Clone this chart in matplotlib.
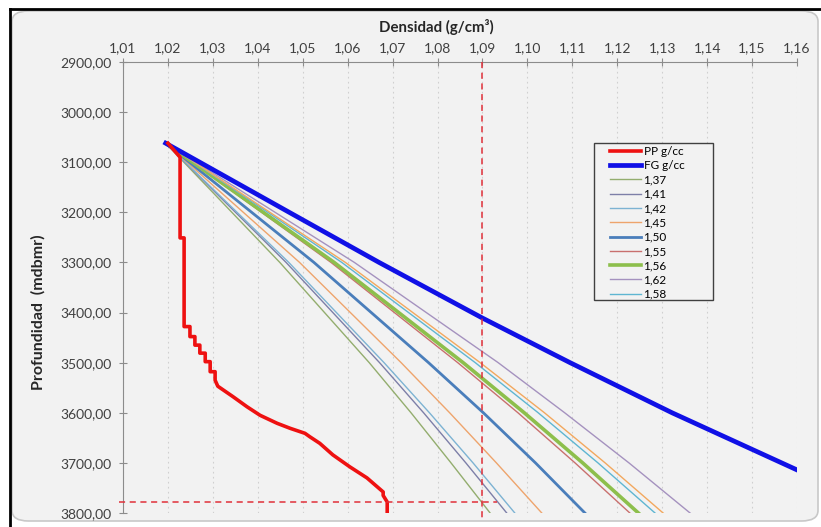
import matplotlib
matplotlib.use('Agg')
import matplotlib.pyplot as plt
from matplotlib.patches import FancyBboxPatch, Rectangle
from matplotlib.lines import Line2D
from matplotlib.ticker import FuncFormatter

plt.rcParams['font.family'] = ['Lato', 'DejaVu Sans']

# PP curve (pore pressure), density vs depth
pp_dens = [1.0200, 1.0227, 1.0227, 1.0236, 1.0236, 1.0249, 1.0249, 1.0260, 1.0260, 1.0271, 1.0271,
           1.0283, 1.0283, 1.0294, 1.0294, 1.0305, 1.0305, 1.0311, 1.0345, 1.0376, 1.0405, 1.0443,
           1.0472, 1.0505, 1.0516, 1.0538, 1.0567, 1.0605, 1.0643, 1.0679, 1.0679, 1.0688, 1.0688]
pp_depth = [3062, 3090, 3251, 3251, 3428, 3428, 3448, 3448, 3465, 3465, 3481,
            3481, 3498, 3498, 3518, 3518, 3535, 3547, 3568, 3588, 3605, 3621,
            3631, 3641, 3648, 3661, 3684, 3708, 3730, 3758, 3765, 3778, 3800]

# FG curve (fracture gradient)
fg_dens = [1.0195, 1.0470, 1.0670, 1.0900, 1.1095, 1.1322, 1.1600]
fg_depth = [3062, 3200, 3300, 3411, 3500, 3600, 3714]

# mud weight curves
mw_depth = [3062, 3300, 3500, 3600, 3700, 3800]
mw_labels = ['1,37', '1,41', '1,42', '1,45', '1,50', '1,55', '1,56', '1,62', '1,58', '_nolegend_']
mw_dens = {
    '1,37': [1.0195, 1.0449, 1.0648, 1.0741, 1.0830, 1.0917],
    '1,41': [1.0195, 1.0463, 1.0671, 1.0769, 1.0863, 1.0954],
    '1,42': [1.0195, 1.0469, 1.0681, 1.0782, 1.0879, 1.0972],
    '1,45': [1.0195, 1.0493, 1.0719, 1.0827, 1.0931, 1.1032],
    '1,50': [1.0195, 1.0525, 1.0780, 1.0902, 1.1018, 1.1128],
    '1,55': [1.0195, 1.0563, 1.0845, 1.0979, 1.1106, 1.1228],
    '1,56': [1.0195, 1.0570, 1.0857, 1.0993, 1.1123, 1.1247],
    '1,62': [1.0195, 1.0615, 1.0935, 1.1083, 1.1226, 1.1362],
    '1,58': [1.0195, 1.0587, 1.0884, 1.1024, 1.1157, 1.1284],
    '_nolegend_': [1.0195, 1.0595, 1.0895, 1.1038, 1.1173, 1.1302],
}
mw_colors = ['#93ad6e', '#7d7fa8', '#7db3d3', '#eea46c', '#4a7ebb', '#c9706e', '#8dbf4c', '#a592bf',
             '#5fb6d2', '#f2a85e']
mw_widths = [1.0, 1.0, 1.0, 1.0, 2.0, 1.0, 2.6, 1.0, 1.0, 1.0]

# reference lines
ref_dens = 1.09
ref_depth = 3779

x_ticks = [1.01 + 0.01 * i for i in range(16)]
y_ticks = list(range(2900, 3900, 100))

fig = plt.figure(figsize=(8.21, 5.27), dpi=100, facecolor='white')
panel = FancyBboxPatch((12 / 821, 6 / 527), 806 / 821, 510 / 527,
                       boxstyle='round,pad=0,rounding_size=0.02', transform=fig.transFigure,
                       facecolor='#f2f2f2', edgecolor='#c8c8c8', lw=1.2, zorder=-2)
fig.patches.append(panel)
fig.lines.append(Line2D([10 / 821, 1], [1 - 9 / 527, 1 - 9 / 527], transform=fig.transFigure,
                        color='black', lw=2, zorder=-1))
fig.lines.append(Line2D([10 / 821, 10 / 821], [0, 1 - 9 / 527], transform=fig.transFigure,
                        color='black', lw=2, zorder=-1))

ax = fig.add_axes([123 / 821, 1 - 513 / 527, 674 / 821, 451 / 527])
ax.set_facecolor('#f2f2f2')

ax.plot(pp_dens, pp_depth, color='#ee1111', lw=2.6, label='PP g/cc', zorder=5)
ax.plot(fg_dens, fg_depth, color='#1010e6', lw=3.4, label='FG g/cc', zorder=4)
for lab, col, w in zip(mw_labels, mw_colors, mw_widths):
    ax.plot(mw_dens[lab], mw_depth, color=col, lw=w, label=lab, zorder=3)

ax.plot([ref_dens, ref_dens], [2900, 3815], color='#e0303a', lw=1.1, ls=(0, (4, 3)), clip_on=False, zorder=6)
ax.plot([1.009, 1.0933], [ref_depth, ref_depth], color='#e0303a', lw=1.1, ls=(0, (4, 3)), clip_on=False, zorder=6)

ax.set_xlim(1.01, 1.16)
ax.set_ylim(3800, 2900)
ax.xaxis.tick_top()
ax.set_xticks(x_ticks)
ax.set_yticks(y_ticks)
ax.xaxis.set_major_formatter(FuncFormatter(lambda v, p: ('%.2f' % v).replace('.', ',')))
ax.yaxis.set_major_formatter(FuncFormatter(lambda v, p: ('%.2f' % v).replace('.', ',')))
ax.tick_params(axis='both', direction='inout', length=6, color='#8c8c8c', labelsize=10, labelcolor='#404040')
ax.tick_params(axis='x', pad=3)
ax.tick_params(axis='y', pad=5)
ax.grid(axis='x', color='#d0d0d0', ls=(0, (1.5, 3)), lw=0.8)
for s in ['bottom', 'right']:
    ax.spines[s].set_visible(False)
for s in ['top', 'left']:
    ax.spines[s].set_color('#8c8c8c')

fig.text(436 / 821, 1 - 27 / 527, 'Densidad (g/cm³)', ha='center', va='center', fontsize=10.8,
         fontweight='bold', color='#262626')
fig.text(38 / 821, 1 - 312 / 527, 'Profundidad  (mdbmr)', ha='center', va='center', rotation=90,
         fontsize=11.5, fontweight='bold', color='#262626')

# legend box
ax.add_patch(Rectangle((0.6988, 0.4723), 0.1766, 0.3481, transform=ax.transAxes, facecolor='#f2f2f2',
                       edgecolor='#404040', lw=1.0, zorder=7))
leg = ax.legend(loc='upper left', bbox_to_anchor=(0.718, 0.822), fontsize=8.5, frameon=False,
                handlelength=2.6, handletextpad=0.2, labelspacing=0.28, borderpad=0.3, borderaxespad=0)
leg.set_zorder(8)

fig.savefig('out.png', dpi=100, facecolor=fig.get_facecolor())
